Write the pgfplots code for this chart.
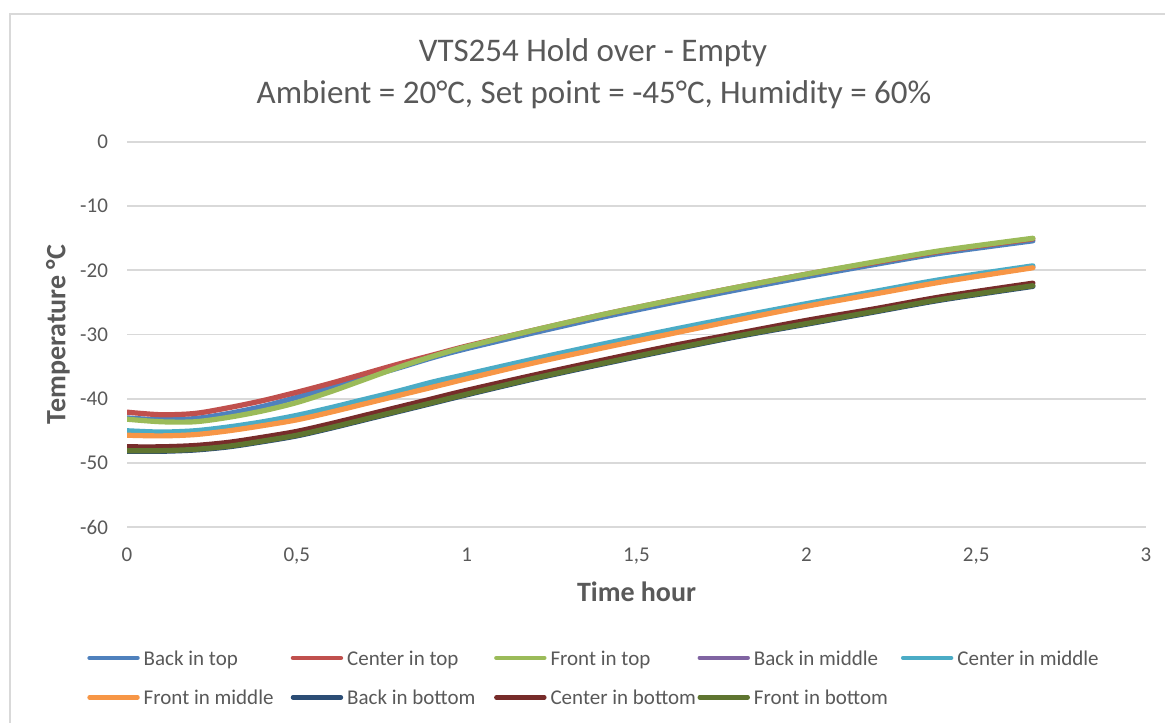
\documentclass[border=0pt]{standalone}
\usepackage{fontspec}
\setmainfont{Carlito}
\usepackage{pgfplots}
\pgfplotsset{compat=1.18}
\usepackage{pgfplotstable}
\definecolor{txt}{HTML}{595959}
\definecolor{gridc}{HTML}{D9D9D9}
\definecolor{c1}{HTML}{4F81BD}
\definecolor{c2}{HTML}{C0504D}
\definecolor{c3}{HTML}{9BBB59}
\definecolor{c4}{HTML}{8064A2}
\definecolor{c5}{HTML}{4BACC6}
\definecolor{c6}{HTML}{F79646}
\definecolor{c7}{HTML}{2C4D75}
\definecolor{c8}{HTML}{772C2A}
\definecolor{c9}{HTML}{5F7530}
\pgfplotstableread{
x      bt     ct     ft     bm     cm     fm     bb     cb     fb
0      -43.0  -42.1  -43.2  -45.4  -45.0  -45.7  -48.2  -47.5  -48.1
0.1    -43.3  -42.5  -43.6  -45.5  -45.2  -45.8  -48.2  -47.5  -48.1
0.2    -43.1  -42.3  -43.6  -45.3  -45.0  -45.6  -48.0  -47.3  -47.9
0.3    -42.3  -41.4  -42.9  -44.7  -44.4  -45.0  -47.5  -46.8  -47.4
0.4    -41.2  -40.3  -41.9  -43.9  -43.6  -44.2  -46.7  -46.0  -46.6
0.5    -39.8  -39.0  -40.6  -42.9  -42.6  -43.3  -45.8  -45.1  -45.7
0.6    -38.3  -37.6  -38.9  -41.7  -41.4  -42.1  -44.6  -43.9  -44.5
0.7    -36.7  -36.1  -37.0  -40.4  -40.1  -40.8  -43.3  -42.6  -43.2
0.8    -35.2  -34.6  -35.1  -39.1  -38.8  -39.5  -42.0  -41.3  -41.9
0.9    -33.6  -33.2  -33.4  -37.8  -37.4  -38.2  -40.7  -40.0  -40.6
1.0    -32.2  -31.8  -31.9  -36.5  -36.2  -36.9  -39.4  -38.7  -39.3
1.2    -29.7  -29.3  -29.3  -34.1  -33.8  -34.4  -36.9  -36.3  -36.8
1.4    -27.3  -26.9  -26.9  -31.8  -31.5  -32.1  -34.6  -34.0  -34.5
1.6    -25.1  -24.7  -24.7  -29.6  -29.3  -29.9  -32.4  -31.8  -32.3
1.8    -23.0  -22.6  -22.6  -27.4  -27.2  -27.7  -30.3  -29.8  -30.2
2.0    -21.0  -20.6  -20.6  -25.4  -25.2  -25.6  -28.4  -27.8  -28.3
2.2    -19.1  -18.8  -18.7  -23.5  -23.3  -23.7  -26.5  -26.0  -26.4
2.4    -17.3  -17.0  -16.9  -21.6  -21.4  -21.8  -24.6  -24.1  -24.5
2.667  -15.4  -15.1  -15.0  -19.5  -19.3  -19.6  -22.5  -22.0  -22.4
}\data
\begin{document}
\begin{tikzpicture}
\useasboundingbox (0,0) rectangle (582.5pt,361pt);
\fill[white] (0,0) rectangle (582.5pt,361pt);
\draw[gridc, line width=1pt] (5pt,-2pt) -- (5pt,354pt) -- (585pt,354pt);
\node[text=txt, font=\fontsize{16.5}{20}\selectfont] at (296.5pt,334.5pt) {VTS254 Hold over - Empty};
\node[text=txt, font=\fontsize{16.5}{20}\selectfont] at (297pt,313.5pt) {Ambient = 20°C, Set point = -45°C, Humidity = 60\%};
\begin{axis}[
  at={(63.5pt,97.5pt)}, anchor=south west,
  scale only axis, width=509.5pt, height=192.5pt,
  xmin=0, xmax=3, ymin=-60, ymax=0,
  xtick={0,0.5,1,1.5,2,2.5,3},
  xticklabels={0,{0,5},1,{1,5},2,{2,5},3},
  ytick={-60,-50,-40,-30,-20,-10,0},
  yticklabels={-60,-50,-40,-30,-20,-10,0},
  ticklabel style={font=\fontsize{10.5}{12.6}\selectfont, text=txt},
  xticklabel style={yshift=-7pt},
  yticklabel style={xshift=-6pt},
  major tick length=0pt,
  tick style={draw=none},
  axis line style={draw=none},
  ymajorgrids,
  major grid style={gridc, line width=0.9pt},
  xlabel={Time hour},
  ylabel={Temperature °C},
  xlabel style={at={(axis description cs:0.5,-0.169)}, anchor=center, font=\fontsize{14}{16}\selectfont\bfseries, text=txt},
  ylabel style={at={(axis description cs:-0.0677,0.5)}, anchor=center, font=\fontsize{14}{16}\selectfont\bfseries, text=txt},
  every axis plot/.append style={line width=2.6pt, line cap=round, line join=round, smooth, no markers},
  legend columns=5,
  legend cell align=left,
  legend style={at={(axis description cs:-0.0393,-0.3122)}, anchor=north west, draw=none, fill=none, inner sep=0pt,
    font=\fontsize{10.5}{12.6}\selectfont, text=txt, row sep=9.4pt,
    /tikz/every odd column/.append style={column sep=2pt},
    nodes={inner sep=0pt}},
  legend image code/.code={\draw[#1, line width=2.2pt] (0pt,0pt) -- (24pt,0pt);},
]
\addplot[c1] table[x=x,y=bt] {\data};
\addlegendentry{\makebox[73.5pt][l]{\strut Back in top}}
\addplot[c2] table[x=x,y=ct] {\data};
\addlegendentry{\makebox[73.5pt][l]{\strut Center in top}}
\addplot[c3] table[x=x,y=ft] {\data};
\addlegendentry{\makebox[73.5pt][l]{\strut Front in top}}
\addplot[c4] table[x=x,y=bm] {\data};
\addlegendentry{\makebox[73.5pt][l]{\strut Back in middle}}
\addplot[c5] table[x=x,y=cm] {\data};
\addlegendentry{\makebox[73.5pt][l]{\strut Center in middle}}
\addplot[c6] table[x=x,y=fm] {\data};
\addlegendentry{\makebox[73.5pt][l]{\strut Front in middle}}
\addplot[c7] table[x=x,y=bb] {\data};
\addlegendentry{\makebox[73.5pt][l]{\strut Back in bottom}}
\addplot[c8] table[x=x,y=cb] {\data};
\addlegendentry{\makebox[73.5pt][l]{\strut Center in bottom}}
\addplot[c9] table[x=x,y=fb] {\data};
\addlegendentry{\makebox[73.5pt][l]{\strut Front in bottom}}
\end{axis}
\end{tikzpicture}
\end{document}
